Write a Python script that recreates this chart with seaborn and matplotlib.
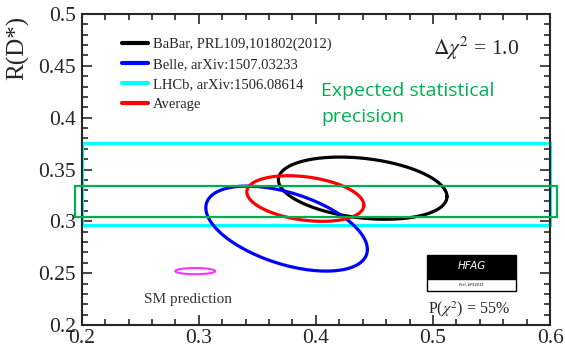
import numpy as np
import pandas as pd
import matplotlib
matplotlib.use("Agg")
import matplotlib.pyplot as plt
from matplotlib.lines import Line2D
from matplotlib.patches import Rectangle
import seaborn as sns

# measurements of R(D) vs R(D*), Delta chi2 = 1 contours
names = ["BaBar, PRL109,101802(2012)", "Belle, arXiv:1507.03233", "Average"]
rd_mean = [0.440, 0.375, 0.391]
rd_err = [0.072, 0.069, 0.050]
rdst_mean = [0.332, 0.293, 0.322]
rdst_err = [0.030, 0.041, 0.022]
rho = [-0.27, -0.49, -0.29]
colors = ["black", "blue", "red"]

# LHCb measured only R(D*) -> horizontal band
lhcb_name = "LHCb, arXiv:1506.08614"
lhcb_rdst = 0.336
lhcb_err = 0.040

# SM prediction
sm_rd, sm_rd_err = 0.297, 0.017
sm_rdst, sm_rdst_err = 0.252, 0.003

# expected statistical precision band (annotation)
exp_lo, exp_hi = 0.304, 0.334


def contour(mx, sx, my, sy, r, label):
    t = np.linspace(0, 2 * np.pi, 300)
    x = mx + sx * np.cos(t)
    y = my + sy * (r * np.cos(t) + np.sqrt(1 - r ** 2) * np.sin(t))
    return pd.DataFrame({"R(D)": x, "R(D*)": y, "exp": label, "t": t})


sns.set_style("ticks")
plt.rcParams['font.family'] = ['Liberation Serif', 'DejaVu Serif']
plt.rcParams['mathtext.fontset'] = 'stix'

fig = plt.figure(figsize=(5.65, 3.5), dpi=100)
ax = fig.add_axes([0.1446, 0.0714, 0.8289, 0.8886])

df = pd.concat([contour(rd_mean[i], rd_err[i], rdst_mean[i], rdst_err[i], rho[i], names[i])
                for i in range(len(names))])
sns.lineplot(data=df, x="R(D)", y="R(D*)", hue="exp", palette=dict(zip(names, colors)),
             sort=False, estimator=None, lw=2.3, legend=False, ax=ax)

sm = contour(sm_rd, sm_rd_err, sm_rdst, sm_rdst_err, 0.0, "SM")
sns.lineplot(data=sm, x="R(D)", y="R(D*)", sort=False, estimator=None, color="#ff33ff",
             lw=1.5, legend=False, ax=ax)

ax.set_xlim(0.2, 0.6)
ax.set_ylim(0.2, 0.5)

ax.add_patch(Rectangle((0.2, lhcb_rdst - lhcb_err), 0.4, 2 * lhcb_err, fill=False,
                       ec="cyan", lw=2.3, clip_on=False, zorder=1))
ax.add_patch(Rectangle((0.194, exp_lo), 0.412, exp_hi - exp_lo, fill=False,
                       ec="#00b050", lw=1.6, clip_on=False, zorder=5))

ax.text(0.4045, 0.413, "Expected statistical\nprecision", color="#00b050",
        family="Open Sans", fontsize=14, ha="left", va="center", linespacing=1.6)

handles = [Line2D([], [], color=c, lw=3) for c in ["black", "blue", "cyan", "red"]]
labels = [names[0], names[1], lhcb_name, names[2]]
ax.legend(handles, labels, loc="upper left", bbox_to_anchor=(0.086, 0.925), frameon=False,
          fontsize=10.5, handlelength=1.8, handletextpad=0.35, labelspacing=0.47,
          borderpad=0, borderaxespad=0)

ax.text(0.537, 0.467, r"$\Delta\chi^2$ = 1.0", fontsize=15.5, ha="center", va="center")
ax.text(0.291, 0.225, "SM prediction", fontsize=11, ha="center", va="center", color="#333333")
ax.text(0.531, 0.2155, r"P($\chi^2$) = 55%", fontsize=11.5, ha="center", va="center")

# HFAG logo
ax.add_patch(Rectangle((0.495, 0.2445), 0.076, 0.0235, fc="black", ec="black", lw=1))
ax.add_patch(Rectangle((0.495, 0.233), 0.076, 0.0115, fc="white", ec="black", lw=1))
ax.text(0.533, 0.2565, "HFAG", color="white", family="DejaVu Sans", style="italic",
        fontsize=7.5, ha="center", va="center")
ax.text(0.533, 0.2387, "Prel. EPS2015", color="black", family="DejaVu Sans", style="italic",
        fontsize=2.5, ha="center", va="center")

ax.set_xticks(np.arange(0.2, 0.61, 0.1))
ax.set_xticklabels(["0.2", "0.3", "0.4", "0.5", "0.6"])
ax.set_yticks(np.arange(0.2, 0.51, 0.05))
ax.set_yticklabels(["0.2", "0.25", "0.3", "0.35", "0.4", "0.45", "0.5"])
ax.set_xticks(np.arange(0.2, 0.601, 0.02), minor=True)
ax.set_yticks(np.arange(0.2, 0.501, 0.01), minor=True)
ax.tick_params(which="both", direction="in", top=True, right=True, width=1.2, labelsize=15.5)
ax.tick_params(which="major", length=7)
ax.tick_params(which="minor", length=4)
ax.tick_params(axis="x", pad=3)
ax.tick_params(axis="y", pad=4)
for s in ax.spines.values():
    s.set_linewidth(1.5)

ax.set_xlabel("")
ax.set_ylabel("R(D*)", fontsize=18, va="center")
ax.yaxis.set_label_coords(-0.136, 0.89)

fig.savefig("out.png", dpi=100)
